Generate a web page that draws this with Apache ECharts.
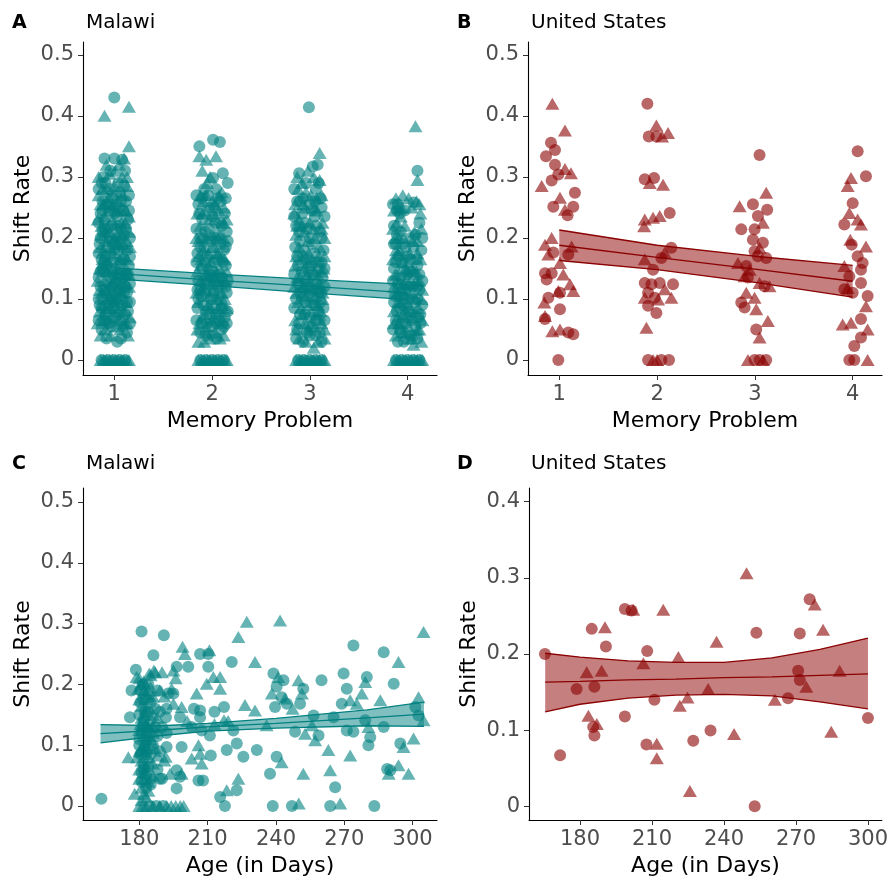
<!DOCTYPE html>
<html>
<head>
<meta charset="utf-8">
<script src="https://cdn.jsdelivr.net/npm/echarts@6/dist/echarts.min.js"></script>
<style>
  html, body { margin: 0; padding: 0; background: #fff; }
  #chart { width: 891px; height: 886px; }
</style>
</head>
<body>
<div id="chart"></div>
<script>
// ---- data ----
var memTicks = [1, 2, 3, 4];
var ageTicks = [180, 210, 240, 270, 300];
var rateTicks = [0, 0.1, 0.2, 0.3, 0.4, 0.5];
var rateTicksUS = [0, 0.1, 0.2, 0.3, 0.4];

// A: Malawi, memory problem (jittered x)
var malawiMemCircle = [
  [1.00,0.43],[0.90,0.33],[1.00,0.33],[1.08,0.328],[0.88,0.26],[0.92,0.255],[1.12,0.26],[0.86,0.24],[0.95,0.245],[1.05,0.25],
  [1.14,0.23],[0.88,0.21],[0.97,0.22],[1.10,0.205],[0.85,0.19],[0.93,0.185],[1.02,0.195],[1.13,0.18],[0.87,0.165],[0.96,0.17],
  [1.06,0.16],[1.15,0.155],[0.89,0.145],[0.99,0.14],[1.09,0.135],[0.86,0.12],[0.94,0.125],[1.04,0.115],[1.13,0.11],[0.88,0.10],
  [0.98,0.095],[1.08,0.09],[0.91,0.075],[1.01,0.07],[1.11,0.075],[0.87,0.05],[0.97,0.055],[1.03,0.03],[1.07,0.035],[1.13,0.045],
  [0.92,0.035],[0.89,0.30],[1.04,0.29],[0.96,0.31],[1.11,0.31],[0.93,0.275],[1.02,0.27],[1.07,0.215],[0.90,0.23],[1.00,0.24],
  [0.95,0.20],[1.12,0.14],[0.92,0.155],[1.05,0.18],[0.85,0.09],[1.14,0.08],[1.00,0.11],[0.95,0.06],
  [0.84,0.28],[0.91,0.29],[0.98,0.265],[1.06,0.275],[1.15,0.27],[0.84,0.225],[0.90,0.215],[1.03,0.235],[1.09,0.245],[1.16,0.2],
  [0.84,0.175],[0.91,0.17],[1.00,0.16],[1.08,0.185],[1.16,0.17],[0.84,0.135],[0.91,0.11],[0.97,0.15],[1.05,0.14],[1.16,0.125],
  [0.84,0.1],[0.94,0.09],[1.02,0.1],[1.10,0.11],[1.16,0.095],[0.84,0.065],[0.93,0.06],[1.04,0.075],[1.09,0.055],[1.16,0.06],
  [0.98,0.12],[1.06,0.2],[0.93,0.215],[1.01,0.215],[0.88,0.15],
  [0.87,0.29],[0.95,0.28],[1.10,0.285],[0.86,0.2],[0.97,0.195],[1.04,0.22],[1.12,0.215],[0.90,0.16],[1.00,0.18],[1.10,0.165],
  [0.86,0.145],[0.96,0.135],[1.06,0.125],[1.14,0.14],[0.90,0.115],[1.01,0.125],[1.11,0.12],[0.87,0.085],[0.97,0.1],[1.06,0.105],
  [1.13,0.095],[0.90,0.065],[1.00,0.085],[1.07,0.065],[0.95,0.255],[1.07,0.26],[0.88,0.245],[1.15,0.245],
  [0.87,0],[0.93,0],[0.99,0],[1.05,0],[1.11,0],
  [1.87,0.35],[2.01,0.361],[2.08,0.357],[2.11,0.306],[2.16,0.29],[2.01,0.298],[1.92,0.28],[2.06,0.265],[1.86,0.255],[1.97,0.25],
  [2.13,0.24],[1.90,0.23],[2.03,0.225],[2.15,0.21],[1.88,0.2],[1.98,0.195],[2.09,0.19],[1.85,0.175],[1.95,0.17],[2.05,0.165],
  [2.14,0.155],[1.90,0.15],[2.00,0.145],[2.10,0.135],[1.86,0.13],[1.96,0.125],[2.06,0.12],[2.15,0.11],[1.89,0.105],[1.99,0.10],
  [2.09,0.095],[1.85,0.085],[1.94,0.08],[2.04,0.075],[2.13,0.07],[1.90,0.06],[2.00,0.055],[2.10,0.05],[1.93,0.04],[2.05,0.035],
  [1.97,0.215],[2.12,0.18],[1.92,0.185],[2.02,0.11],[1.88,0.115],
  [1.84,0.27],[1.96,0.27],[2.04,0.28],[2.14,0.265],[1.84,0.215],[1.93,0.21],[2.08,0.225],[2.16,0.195],[1.84,0.16],[1.93,0.16],
  [2.02,0.16],[2.11,0.16],[1.85,0.115],[1.94,0.11],[2.07,0.105],[2.16,0.13],[1.84,0.065],[1.97,0.075],[2.07,0.065],[2.16,0.08],
  [1.88,0.045],[2.00,0.04],[2.12,0.055],[1.99,0.135],[2.05,0.195],
  [1.90,0.265],[2.09,0.26],[1.87,0.24],[2.00,0.235],[2.10,0.22],[1.91,0.2],[2.03,0.2],[2.14,0.185],[1.88,0.185],[1.97,0.14],
  [2.07,0.14],[2.14,0.12],[1.91,0.09],[2.00,0.09],[2.10,0.085],[1.86,0.1],[1.95,0.06],[2.04,0.06],[2.15,0.06],[2.02,0.25],[1.93,0.125],
  [1.88,0],[1.94,0],[2.00,0],[2.06,0],[2.12,0],
  [2.99,0.414],[3.03,0.317],[3.08,0.32],[2.89,0.306],[2.96,0.29],[3.06,0.28],[2.87,0.26],[3.00,0.255],[3.12,0.25],[2.92,0.24],
  [3.05,0.235],[2.86,0.22],[2.97,0.215],[3.10,0.21],[2.90,0.195],[3.02,0.19],[3.14,0.18],[2.87,0.17],[2.96,0.165],[3.07,0.16],
  [2.92,0.145],[3.03,0.14],[3.13,0.135],[2.88,0.125],[2.98,0.12],[3.09,0.11],[2.86,0.10],[2.95,0.095],[3.05,0.09],[3.14,0.085],
  [2.90,0.075],[3.00,0.07],[3.10,0.065],[2.87,0.05],[2.97,0.045],[3.06,0.04],[2.93,0.03],[3.12,0.03],[3.01,0.155],[2.94,0.18],
  [2.84,0.28],[2.93,0.265],[3.09,0.29],[2.84,0.235],[2.95,0.225],[3.06,0.22],[3.15,0.235],[2.85,0.185],[2.93,0.17],[3.05,0.175],
  [3.12,0.16],[2.84,0.14],[2.95,0.13],[3.06,0.125],[3.15,0.12],[2.84,0.085],[2.92,0.1],[3.03,0.1],[3.11,0.095],[2.86,0.035],
  [2.95,0.075],[3.06,0.065],[3.15,0.065],[3.00,0.04],[3.10,0.045],
  [2.90,0.26],[3.02,0.245],[3.11,0.265],[2.89,0.21],[3.00,0.2],[3.12,0.2],[2.88,0.155],[2.99,0.145],[3.09,0.15],[2.90,0.11],
  [3.00,0.11],[3.12,0.11],[2.89,0.06],[2.99,0.055],[3.09,0.08],[2.94,0.115],[3.05,0.26],[3.15,0.15],
  [2.88,0],[2.94,0],[3.00,0],[3.06,0],[3.12,0],
  [4.10,0.31],[4.06,0.258],[3.90,0.255],[3.97,0.245],[4.12,0.225],[3.86,0.22],[3.93,0.21],[4.08,0.205],[3.88,0.19],[3.98,0.185],
  [4.14,0.18],[3.91,0.17],[4.03,0.165],[4.10,0.155],[3.86,0.15],[3.96,0.145],[4.06,0.14],[3.90,0.125],[4.00,0.12],[4.12,0.115],
  [3.87,0.105],[3.97,0.1],[4.08,0.095],[3.92,0.085],[4.02,0.08],[4.13,0.075],[3.88,0.065],[3.98,0.06],[4.08,0.055],[3.93,0.045],
  [4.03,0.04],[3.96,0.03],[4.10,0.035],[4.15,0.13],
  [3.85,0.255],[3.92,0.24],[3.86,0.19],[3.95,0.19],[4.06,0.185],[4.15,0.2],[3.85,0.13],[3.93,0.135],[4.02,0.145],[4.12,0.14],
  [3.86,0.095],[3.95,0.09],[4.05,0.1],[4.15,0.09],[3.85,0.05],[3.94,0.06],[4.04,0.065],[4.13,0.06],[3.90,0.03],[4.07,0.04],
  [3.98,0.115],[4.10,0.12],
  [3.89,0.245],[4.03,0.2],[3.89,0.205],[3.99,0.17],[4.09,0.165],[3.88,0.16],[4.00,0.14],[4.10,0.1],[3.91,0.105],[4.01,0.1],
  [3.89,0.08],[4.00,0.07],[4.11,0.07],[3.92,0.05],[4.05,0.12],[3.94,0.16],
  [3.88,0],[3.94,0],[4.00,0],[4.06,0],[4.12,0]
];
var malawiMemTri = [
  [0.90,0.40],[1.15,0.415],[1.15,0.35],[1.10,0.33],[1.05,0.32],[0.95,0.305],[1.13,0.30],[0.88,0.28],[1.00,0.285],[1.09,0.27],
  [0.86,0.255],[0.94,0.265],[1.03,0.26],[1.12,0.245],[0.90,0.235],[0.98,0.23],[1.07,0.225],[1.15,0.21],[0.86,0.205],[0.95,0.21],
  [1.03,0.205],[1.10,0.19],[0.89,0.18],[0.99,0.175],[1.08,0.17],[0.85,0.15],[0.94,0.16],[1.03,0.15],[1.13,0.165],[0.90,0.13],
  [0.99,0.13],[1.07,0.125],[1.15,0.12],[0.87,0.11],[0.95,0.105],[1.04,0.10],[1.12,0.095],[0.85,0.08],[0.92,0.085],[1.01,0.085],
  [1.10,0.06],[0.88,0.065],[0.97,0.07],[1.06,0.05],[0.86,0.04],[1.14,0.04],[0.96,0.04],[1.02,0.19],[0.93,0.145],[1.11,0.225],
  [0.84,0.3],[0.92,0.32],[1.01,0.31],[1.08,0.3],[0.84,0.27],[0.97,0.25],[1.06,0.245],[1.15,0.235],[0.83,0.23],[0.92,0.195],
  [1.00,0.2],[1.08,0.205],[1.16,0.185],[0.86,0.185],[0.96,0.185],[1.05,0.165],[1.12,0.15],[0.83,0.13],[0.96,0.12],[1.02,0.135],
  [1.10,0.14],[0.88,0.09],[0.98,0.08],[1.06,0.09],[1.16,0.07],[0.83,0.06],[1.02,0.055],[0.91,0.05],[1.08,0.11],[0.93,0.115],
  [0.89,0.255],[0.99,0.255],[1.13,0.285],[0.91,0.21],[1.04,0.19],[1.13,0.195],[0.88,0.165],[0.97,0.145],[1.07,0.15],[1.15,0.14],
  [0.85,0.115],[0.94,0.1],[1.03,0.115],[1.12,0.125],[0.89,0.075],[1.00,0.095],[1.09,0.08],[0.95,0.085],[1.05,0.065],[1.13,0.06],
  [0.87,0.22],[1.02,0.245],
  [0.86,0],[0.89,0],[0.92,0],[0.95,0],[0.98,0],[1.01,0],[1.04,0],[1.07,0],[1.10,0],[1.13,0],[1.15,0],
  [1.87,0.334],[1.94,0.328],[2.04,0.334],[1.90,0.31],[1.98,0.30],[1.95,0.29],[2.10,0.275],[1.88,0.27],[2.00,0.26],[1.85,0.24],
  [1.93,0.245],[2.07,0.245],[2.15,0.23],[1.88,0.22],[1.97,0.23],[2.05,0.21],[2.12,0.2],[1.86,0.195],[1.94,0.2],[2.02,0.185],
  [2.10,0.17],[1.89,0.165],[1.99,0.16],[2.08,0.15],[1.85,0.145],[1.93,0.14],[2.03,0.135],[2.13,0.13],[1.91,0.12],[2.00,0.115],
  [2.10,0.11],[1.86,0.095],[1.96,0.09],[2.06,0.085],[2.15,0.085],[1.89,0.07],[1.99,0.065],[2.08,0.06],[1.85,0.05],[1.95,0.045],
  [2.03,0.045],[2.12,0.04],[1.92,0.03],[2.06,0.175],[1.96,0.155],
  [1.91,0.26],[2.03,0.255],[2.12,0.25],[1.84,0.2],[2.00,0.205],[2.08,0.205],[1.86,0.17],[1.96,0.175],[2.04,0.145],[2.15,0.145],
  [1.88,0.13],[1.97,0.105],[2.05,0.1],[2.13,0.1],[1.84,0.11],[1.92,0.075],[2.02,0.07],[2.11,0.065],[1.86,0.03],[2.08,0.035],
  [1.94,0.055],[2.00,0.185],[2.09,0.125],
  [1.94,0.27],[2.07,0.27],[1.90,0.24],[2.02,0.24],[2.12,0.225],[1.91,0.18],[2.04,0.175],[2.13,0.165],[1.88,0.155],[1.96,0.14],
  [2.06,0.13],[1.89,0.115],[1.99,0.085],[2.08,0.08],[1.87,0.06],[1.97,0.035],[2.10,0.09],[2.01,0.125],
  [1.86,0],[1.89,0],[1.92,0],[1.95,0],[1.98,0],[2.01,0],[2.04,0],[2.07,0],[2.10,0],[2.13,0],[2.15,0],
  [3.10,0.339],[3.10,0.295],[2.92,0.29],[2.98,0.31],[3.04,0.3],[2.88,0.28],[3.01,0.27],[3.12,0.27],[2.85,0.255],[2.95,0.25],
  [3.07,0.245],[2.89,0.23],[3.00,0.225],[3.13,0.225],[2.86,0.205],[2.94,0.21],[3.05,0.2],[3.15,0.2],[2.89,0.185],[2.99,0.175],
  [3.09,0.17],[2.85,0.155],[2.95,0.15],[3.05,0.145],[3.14,0.15],[2.90,0.135],[3.00,0.13],[3.10,0.125],[2.86,0.11],[2.96,0.105],
  [3.06,0.105],[2.91,0.085],[3.01,0.08],[3.11,0.08],[2.85,0.065],[2.95,0.06],[3.05,0.055],[3.15,0.05],[2.89,0.035],[3.04,0.02],
  [3.13,0.1],
  [2.87,0.3],[2.96,0.275],[3.07,0.265],[2.84,0.24],[2.92,0.22],[3.03,0.215],[3.10,0.185],[2.86,0.17],[2.98,0.16],[3.08,0.14],
  [3.15,0.17],[2.84,0.12],[2.93,0.12],[3.03,0.115],[3.13,0.11],[2.88,0.095],[2.98,0.09],[3.08,0.09],[2.86,0.05],[2.96,0.03],
  [3.08,0.03],[3.15,0.035],[3.02,0.06],
  [2.93,0.255],[3.05,0.25],[2.87,0.22],[2.98,0.195],[3.12,0.215],[2.92,0.165],[3.02,0.165],[3.12,0.145],[2.87,0.135],[2.97,0.14],
  [3.07,0.12],[2.92,0.075],[3.02,0.095],[3.12,0.06],[2.98,0.05],[3.07,0.075],
  [2.86,0],[2.89,0],[2.92,0],[2.95,0],[2.98,0],[3.01,0],[3.04,0],[3.07,0],[3.10,0],[3.13,0],[3.15,0],
  [4.08,0.383],[4.10,0.295],[3.88,0.265],[3.95,0.27],[4.01,0.265],[4.09,0.26],[3.86,0.245],[3.93,0.235],[4.13,0.24],[3.89,0.225],
  [4.14,0.215],[3.87,0.2],[3.96,0.2],[4.10,0.195],[3.92,0.18],[4.02,0.175],[4.13,0.165],[3.85,0.165],[3.95,0.16],[4.05,0.15],
  [3.89,0.14],[3.99,0.135],[4.09,0.13],[3.86,0.12],[3.94,0.115],[4.04,0.11],[4.14,0.1],[3.90,0.095],[4.00,0.09],[4.11,0.085],
  [3.86,0.08],[3.95,0.075],[4.06,0.07],[3.91,0.06],[4.01,0.055],[4.12,0.05],[3.88,0.04],[3.99,0.045],[4.06,0.025],
  [3.91,0.25],[4.12,0.255],[3.85,0.215],[3.97,0.22],[4.07,0.21],[3.90,0.175],[4.00,0.16],[4.10,0.175],[3.87,0.14],[3.96,0.125],
  [4.06,0.125],[4.15,0.115],[3.89,0.11],[3.98,0.08],[4.08,0.08],[4.15,0.065],[3.86,0.06],[3.95,0.045],[4.04,0.035],[4.14,0.03],
  [3.94,0.25],[4.04,0.25],[3.91,0.2],[4.05,0.195],[3.88,0.18],[3.98,0.15],[4.09,0.145],[3.91,0.125],[4.01,0.125],[4.12,0.13],
  [3.93,0.095],[4.03,0.085],[3.90,0.07],[4.00,0.035],[4.10,0.05],
  [3.86,0],[3.89,0],[3.92,0],[3.95,0],[3.98,0],[4.01,0],[4.04,0],[4.07,0],[4.10,0],[4.13,0],[4.15,0]
];
var malawiMemFitX = [1, 2, 3, 4];
var malawiMemFit = [0.142, 0.131, 0.121, 0.110];
var malawiMemHi = [0.151, 0.141, 0.132, 0.124];
var malawiMemLo = [0.133, 0.122, 0.110, 0.099];

// B: United States, memory problem
var usMemCircle = [
  [0.915,0.356],[0.956,0.344],[0.864,0.334],[0.956,0.32],[0.99,0.304],[0.922,0.294],[1.16,0.274],[0.939,0.251],[1.143,0.251],[1.085,0.237],
  [0.939,0.176],[1.092,0.173],[0.854,0.142],[0.922,0.142],[0.871,0.132],[1.007,0.11],[0.888,0.102],[1.007,0.083],[0.854,0.067],[1.092,0.045],
  [1.143,0.042],[0.99,0],
  [1.901,0.42],[1.915,0.366],[1.993,0.366],[1.874,0.296],[1.969,0.298],[2.129,0.241],[2.146,0.184],[2.044,0.167],[1.959,0.148],[1.874,0.126],
  [1.942,0.124],[2.027,0.126],[2.163,0.124],[1.908,0.11],[1.976,0.102],[1.908,0.089],[1.993,0.077],[1.908,0],[2.044,0],[2.122,0],
  [3.048,0.336],[2.980,0.255],[3.126,0.246],[3.031,0.236],[2.997,0.214],[2.861,0.214],[2.980,0.197],[3.082,0.192],[2.997,0.178],[3.116,0.167],
  [3.031,0.17],[2.912,0.154],[2.929,0.135],[3.099,0.121],[2.861,0.094],[2.895,0.086],[3.014,0.05],[2.997,0],[3.048,0],[3.116,0],
  [4.051,0.342],[4.136,0.301],[4.0,0.257],[3.915,0.222],[3.990,0.189],[4.051,0.17],[4.102,0.159],[4.085,0.148],[3.966,0.137],[4.085,0.126],
  [3.915,0.116],[4.0,0.11],[4.153,0.105],[4.085,0.067],[4.085,0.037],[4.017,0.023],[3.966,0],[4.017,0]
];
var usMemTri = [
  [0.929,0.42],[1.058,0.376],[1.058,0.313],[1.119,0.306],[0.82,0.285],[1.007,0.266],[1.058,0.246],[0.922,0.2],[0.854,0.189],[1.126,0.186],
  [0.888,0.173],[1.007,0.159],[1.041,0.14],[1.109,0.124],[1.143,0.113],[0.99,0.113],[0.847,0.094],[0.854,0.072],[0.929,0.047],[1.007,0.05],
  [1.993,0.384],[2.051,0.366],[2.112,0.372],[1.925,0.29],[2.061,0.287],[1.874,0.23],[1.959,0.233],[2.027,0.236],[1.867,0.219],[2.078,0.176],
  [1.874,0.165],[2.078,0.116],[1.874,0.102],[2.010,0.099],[2.146,0.102],[1.891,0.053],[1.959,0],[2.0,0],
  [3.116,0.274],[2.844,0.252],[3.082,0.225],[3.048,0.184],[2.827,0.159],[2.946,0.148],[2.895,0.137],[3.048,0.126],[3.150,0.121],[2.912,0.11],
  [2.997,0.102],[3.014,0.083],[3.133,0.064],[3.048,0.037],[2.929,0],[3.082,0],
  [3.983,0.298],[3.949,0.285],[3.966,0.241],[4.051,0.23],[4.085,0.222],[3.976,0.197],[4.136,0.186],[3.915,0.154],[3.949,0.118],[4.136,0.088],
  [3.983,0.061],[3.898,0.058],[4.153,0.05],[4.153,0]
];
var usMemFitX = [1, 2, 3, 4];
var usMemFit = [0.188, 0.168, 0.149, 0.129];
var usMemHi = [0.213, 0.188, 0.170, 0.155];
var usMemLo = [0.163, 0.148, 0.127, 0.103];

// C: Malawi, age in days
var malawiAgeCircle = [
  [163.4,0.012],[181,0.287],[190.8,0.281],[178.5,0.224],[186.2,0.248],[176.6,0.19],[175.9,0.146],[181.5,0.2],[180.5,0.19],[182,0.175],
  [184,0.155],[180,0.15],[182,0.14],[181,0.12],[183,0.11],[180,0.1],[183,0.085],[182,0.07],[181,0.055],[183,0.05],
  [185,0.035],[184.5,0],[187.5,0],[190.5,0],[188,0.19],[185,0.17],[187,0.16],[185,0.14],[187,0.13],[188,0.115],
  [186,0.1],[185,0.085],[188,0.06],[185,0.045],[184,0.2],[189,0.155],[189,0.09],[190,0.13],[192,0.16],[192,0.12],
  [190,0.045],[196.4,0.229],[201.5,0.229],[195,0.185],[192.7,0.185],[197.9,0.146],[191.7,0.146],[192,0.097],[189,0.045],[196.4,0.059],
  [197.9,0.048],[196.4,0.029],[198.6,0.097],[206.7,0.25],[210.3,0.229],[210.3,0.25],[206.7,0.157],[206.7,0.146],[207.4,0.124],[206,0.042],
  [208,0.042],[211,0.116],[211.4,0.083],[217.2,0.163],[218.4,0.092],[215.5,0.015],[217.6,0],[220.6,0.237],[221.3,0.124],[222.8,0.103],
  [222.8,0.026],[225.7,0.081],[231.6,0.092],[238.9,0.218],[240.3,0.196],[239.6,0.163],[242.5,0.179],[243.3,0.207],[244.8,0.168],[237.4,0.053],
  [240.3,0.081],[238.6,0],[247,0],[252,0.193],[250.6,0.168],[248.4,0.122],[256.5,0.149],[260,0.207],[258.7,0.116],[266,0.031],
  [263.8,0],[269.7,0.218],[271.1,0.193],[268.9,0.168],[265.3,0.146],[271.1,0.124],[274,0.264],[274,0.122],[279.9,0.212],[279.2,0.141],
  [281.4,0.113],[280.6,0.1],[283.2,0],[287.3,0.253],[287.3,0.13],[291.7,0.201],[288.8,0.061],[290.2,0.059],[294.6,0.103],[301.2,0.163],
  [302.6,0.149],[204,0.16],[213,0.155],[203,0.13],
  [180.5,0.17],[182.5,0.155],[184,0.175],[181.5,0.13],[183.5,0.125],[180.5,0.085],[182.5,0.1],[184,0.065],[181,0.04],[183,0.03],
  [180,0.11],[182,0.06]
];
var malawiAgeTri = [
  [178.8,0.212],[186.4,0.223],[184.4,0.218],[179.6,0.193],[175.2,0.08],[178,0.02],[180,0.21],[181,0.2],[182,0.19],[183,0.185],
  [181,0.165],[183,0.16],[181,0.145],[183,0.135],[184,0.13],[180,0.125],[182,0.115],[184,0.105],[181,0.095],[182,0.09],
  [184,0.08],[179,0.08],[181,0.075],[183,0.065],[180,0.06],[182,0.045],[184,0.04],[181,0.03],[182,0.02],[183,0.015],
  [180,0],[181.5,0],[183,0],[186,0],[189,0],[192,0],[194,0],[196,0],[198,0],[199.5,0],
  [187,0.22],[185,0.215],[186,0.18],[186,0.15],[188,0.145],[186,0.12],[185,0.11],[187,0.095],[186,0.07],[186,0.05],
  [185,0.195],[186,0.13],[189,0.19],[190,0.22],[191,0.18],[191,0.075],[188,0.083],
  [199,0.262],[200,0.25],[195,0.223],[196,0.21],[194.2,0.193],[195,0.168],[198.6,0.163],[191.6,0.081],[193.5,0.053],[198.6,0.053],
  [205.2,0.185],[210.8,0.256],[212.5,0.212],[209.6,0.201],[206,0.1],[206.7,0.086],[207.4,0.07],[203,0.078],[215.5,0.212],[215.5,0.193],
  [217.2,0.141],[218.4,0.026],[223.5,0.278],[227.2,0.303],[230.8,0.237],[223.5,0.045],[226.4,0.166],[230.8,0.157],[235.9,0.133],[238.2,0.185],
  [241.8,0.305],[241,0.212],[244,0.177],[242.5,0.072],[250,0.004],[252,0.053],[249.9,0.207],[251.4,0.185],[247.3,0.16],[252.8,0.119],
  [255.8,0.133],[257.2,0.108],[263,0.092],[263.8,0.059],[268.2,0.004],[272.6,0.174],[275.5,0.168],[272.6,0.083],[277.7,0.185],[279.2,0.204],
  [280.6,0.13],[285.8,0.174],[293.8,0.237],[289.5,0.053],[293.8,0.067],[296,0.097],[298.2,0.053],[300.4,0.111],[302.6,0.179],[304.8,0.286],
  [304.8,0.141],[201,0.14],[213,0.135],[219,0.14],
  [182,0.205],[184,0.19],[180,0.175],[182.5,0.15],[180.5,0.135],[184.5,0.115],[182,0.1],[180,0.09],[183.5,0.095],[182.5,0.055],
  [180,0.045],[184,0.025],[181,0.01]
];
var malawiAgeFitX = [163, 190, 210, 240, 280, 305];
var malawiAgeFit = [0.119, 0.125, 0.130, 0.136, 0.145, 0.151];
var malawiAgeHi = [0.134, 0.132, 0.136, 0.144, 0.158, 0.171];
var malawiAgeLo = [0.104, 0.116, 0.123, 0.128, 0.132, 0.131];

// D: United States, age in days
var usAgeCircle = [
  [165.4,0.2],[171.7,0.067],[178.6,0.154],[184.9,0.233],[186,0.157],[185.5,0.104],[186,0.093],[190.8,0.21],[198.7,0.259],[201.5,0.257],
  [198.7,0.118],[208,0.204],[207.7,0.081],[211,0.14],[227.2,0.086],[234.4,0.0996],[253.5,0.228],[252.8,0],[266.7,0.142],[271.6,0.227],
  [270.9,0.178],[271.6,0.166],[275.7,0.272],[300,0.116]
];
var usAgeTri = [
  [182.8,0.176],[183.5,0.119],[187,0.108],[189,0.178],[190.4,0.235],[202.2,0.258],[206.4,0.188],[212,0.082],[212,0.063],[214.7,0.258],
  [221,0.196],[221.6,0.132],[224.8,0.143],[225.8,0.02],[233.4,0.154],[236.9,0.216],[244.2,0.095],[249.4,0.306],[261.2,0.14],[274.3,0.157],
  [277.8,0.265],[281.3,0.232],[284.7,0.098],[288.2,0.178]
];
var usAgeFitX = [165.5, 180, 200, 220, 240, 260, 280, 300];
var usAgeFit = [0.163, 0.164, 0.166, 0.167, 0.169, 0.170, 0.172, 0.174];
var usAgeHi = [0.201, 0.196, 0.191, 0.189, 0.189, 0.195, 0.206, 0.221];
var usAgeLo = [0.124, 0.134, 0.142, 0.146, 0.147, 0.145, 0.137, 0.128];

// ---- styling ----
var TEAL = '#008080';
var DARKRED = '#8B0000';
var FONT = 'DejaVu Sans';

var chart = echarts.init(document.getElementById('chart'), null, {renderer: 'canvas'});

function rateLabel(v) {
    if (Math.abs(v) < 1e-9) return '0';
    return v.toFixed(1);
}

function xAxisFor(gi, min, max, ticks, name) {
    return {
        type: 'value', gridIndex: gi, min: min, max: max,
        name: name, nameLocation: 'middle', nameGap: 35,
        nameTextStyle: {color: '#000', fontSize: 22, fontFamily: FONT},
        axisLine: {show: true, onZero: false, lineStyle: {color: '#000', width: 1.1}},
        axisTick: {show: true, length: 5, customValues: ticks, lineStyle: {color: '#333'}},
        axisLabel: {customValues: ticks, margin: 9, color: '#4d4d4d', fontSize: 21, fontFamily: FONT},
        splitLine: {show: false}
    };
}

function yAxisFor(gi, min, max, ticks) {
    return {
        type: 'value', gridIndex: gi, min: min, max: max,
        name: 'Shift Rate', nameLocation: 'middle', nameGap: 49, nameRotate: 90,
        nameTextStyle: {color: '#000', fontSize: 22, fontFamily: FONT},
        axisLine: {show: true, onZero: false, lineStyle: {color: '#000', width: 1.1}},
        axisTick: {show: true, length: 5, customValues: ticks, lineStyle: {color: '#333'}},
        axisLabel: {customValues: ticks, margin: 9, color: '#4d4d4d', fontSize: 21, fontFamily: FONT, formatter: rateLabel},
        splitLine: {show: false}
    };
}

function zip(xs, ys) {
    return xs.map(function (x, i) { return [x, ys[i]]; });
}

// ribbon + fit lines + points for one panel
function panelSeries(gi, color, fillOpacity, fitX, fit, hi, lo, circles, tris, pointOpacity) {
    var out = [];
    out.push({
        type: 'custom', xAxisIndex: gi, yAxisIndex: gi, silent: true, z: 1,
        data: zip(fitX, fit),
        renderItem: function (params, api) {
            if (params.dataIndex !== 0) return;
            var pts = [];
            for (var i = 0; i < fitX.length; i++) pts.push(api.coord([fitX[i], hi[i]]));
            for (var j = fitX.length - 1; j >= 0; j--) pts.push(api.coord([fitX[j], lo[j]]));
            return {type: 'polygon', shape: {points: pts}, style: {fill: color, opacity: fillOpacity}};
        }
    });
    [hi, fit, lo].forEach(function (ys) {
        out.push({
            type: 'line', xAxisIndex: gi, yAxisIndex: gi, data: zip(fitX, ys),
            showSymbol: false, silent: true, z: 2, smooth: false,
            lineStyle: {color: color, width: 1.3}
        });
    });
    out.push({
        type: 'scatter', xAxisIndex: gi, yAxisIndex: gi, data: circles, z: 3,
        symbol: 'circle', symbolSize: 12,
        itemStyle: {color: color, opacity: pointOpacity}
    });
    out.push({
        type: 'scatter', xAxisIndex: gi, yAxisIndex: gi, data: tris, z: 3,
        symbol: 'triangle', symbolSize: [14, 12],
        itemStyle: {color: color, opacity: pointOpacity}
    });
    return out;
}

function panelTitles(letter, country, x, y) {
    return [
        {text: letter, left: x + 12, top: y + 14, padding: 0,
         textStyle: {fontSize: 19, fontWeight: 'bold', color: '#000', fontFamily: FONT}},
        {text: country, left: x + 86, top: y + 13, padding: 0,
         textStyle: {fontSize: 20, fontWeight: 'normal', color: '#000', fontFamily: FONT}}
    ];
}

var option = {
    backgroundColor: '#fff',
    animation: false,
    title: [].concat(
        panelTitles('A', 'Malawi', 0, 0),
        panelTitles('B', 'United States', 445, 0),
        panelTitles('C', 'Malawi', 0, 441),
        panelTitles('D', 'United States', 445, 441)
    ),
    grid: [
        {left: 83, top: 42, width: 354, height: 333},
        {left: 528, top: 42, width: 354, height: 333},
        {left: 83, top: 488, width: 354, height: 332},
        {left: 529, top: 488, width: 353, height: 332}
    ],
    xAxis: [
        xAxisFor(0, 0.68, 4.3, memTicks, 'Memory Problem'),
        xAxisFor(1, 0.68, 4.3, memTicks, 'Memory Problem'),
        xAxisFor(2, 155.3, 310.7, ageTicks, 'Age (in Days)'),
        xAxisFor(3, 158.75, 305.8, ageTicks, 'Age (in Days)')
    ],
    yAxis: [
        yAxisFor(0, -0.0246, 0.521, rateTicks),
        yAxisFor(1, -0.0246, 0.521, rateTicks),
        yAxisFor(2, -0.023, 0.523, rateTicks),
        yAxisFor(3, -0.018, 0.418, rateTicksUS)
    ],
    series: [].concat(
        panelSeries(0, TEAL, 0.5, malawiMemFitX, malawiMemFit, malawiMemHi, malawiMemLo, malawiMemCircle, malawiMemTri, 0.6),
        panelSeries(1, DARKRED, 0.5, usMemFitX, usMemFit, usMemHi, usMemLo, usMemCircle, usMemTri, 0.6),
        panelSeries(2, TEAL, 0.5, malawiAgeFitX, malawiAgeFit, malawiAgeHi, malawiAgeLo, malawiAgeCircle, malawiAgeTri, 0.6),
        panelSeries(3, DARKRED, 0.5, usAgeFitX, usAgeFit, usAgeHi, usAgeLo, usAgeCircle, usAgeTri, 0.6)
    )
};

chart.setOption(option);

window.onresize = function () {
    chart.resize();
};
</script>
</body>
</html>
